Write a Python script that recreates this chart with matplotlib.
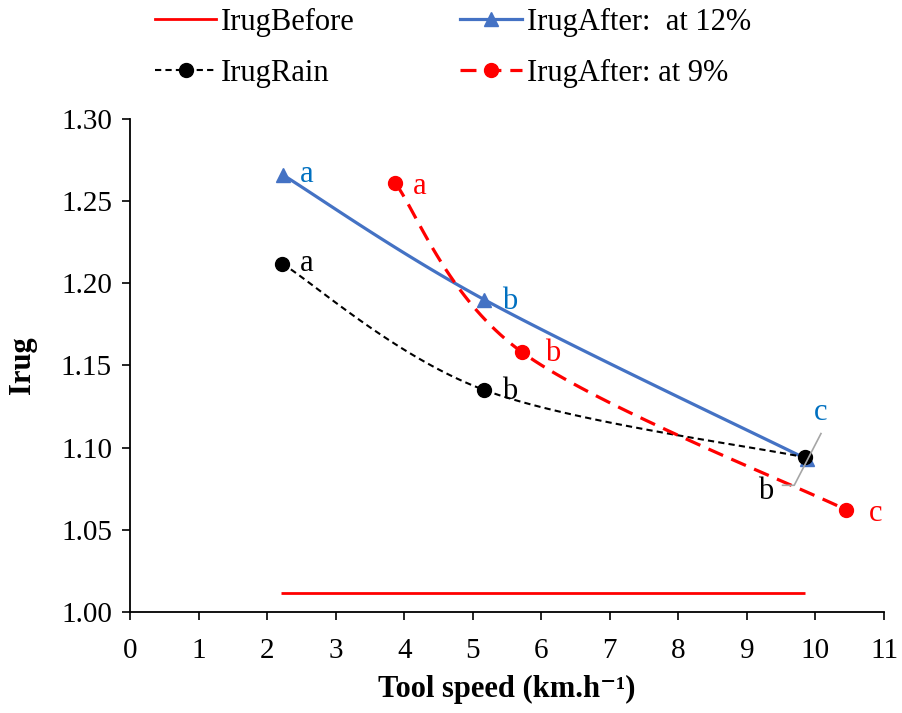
import numpy as np
import matplotlib
matplotlib.use("Agg")
import matplotlib.pyplot as plt
from matplotlib.lines import Line2D

plt.rcParams["font.family"] = ["Liberation Serif", "DejaVu Serif"]

# data
before_x = [2.2, 9.85]
before_y = [1.0115, 1.0115]

after12_x = [2.23, 5.17, 9.87]
after12_y = [1.266, 1.190, 1.093]
after12_lab = ["a", "b", "c"]

rain_x = [2.22, 5.17, 9.85]
rain_y = [1.212, 1.135, 1.094]
rain_lab = ["a", "b", "b"]

after9_x = [3.87, 5.72, 10.45]
after9_y = [1.261, 1.158, 1.062]
after9_lab = ["a", "b", "c"]

XMAX, YMIN, YMAX = 11, 1.0, 1.30


def smooth(xs, ys, n=40):
    # Excel-like smoothed line (bezier through points), done in screen-ish units
    sx, sy = 754 / XMAX, 493 / (YMAX - YMIN)
    p = np.column_stack([np.array(xs) * sx, (np.array(ys) - YMIN) * sy])
    pts = [p[0]]
    for i in range(len(p) - 1):
        p0 = p[i - 1] if i > 0 else p[i]
        p1, p2 = p[i], p[i + 1]
        p3 = p[i + 2] if i + 2 < len(p) else p[i + 1]
        c1 = p1 + (p2 - p0) / 6
        c2 = p2 - (p3 - p1) / 6
        t = np.linspace(0, 1, n)[1:, None]
        seg = ((1 - t) ** 3) * p1 + 3 * ((1 - t) ** 2) * t * c1 + 3 * (1 - t) * t ** 2 * c2 + t ** 3 * p2
        pts.extend(seg)
    pts = np.array(pts)
    return pts[:, 0] / sx, pts[:, 1] / sy + YMIN


fig = plt.figure(figsize=(9.03, 7.13), dpi=100)
ax = fig.add_axes([0.144, 0.142, 0.835, 0.691])

blue = "#4472C4"
red = "#FF0000"
red_dash = (0, (5, 2.8))
blk_dash = (0, (3, 2))

ax.plot(before_x, before_y, color=red, lw=2.0, solid_capstyle="butt")

sx, sy = smooth(after12_x, after12_y)
ax.plot(sx, sy, color=blue, lw=2.3)
ax.plot(after12_x, after12_y, ls="none", marker="^", ms=10, color=blue)

sx, sy = smooth(rain_x, rain_y)
ax.plot(sx, sy, color="black", lw=1.5, ls=blk_dash)
ax.plot(rain_x, rain_y, ls="none", marker="o", ms=10, color="black")

sx, sy = smooth(after9_x, after9_y)
ax.plot(sx, sy, color=red, lw=2.3, ls=red_dash)
ax.plot(after9_x, after9_y, ls="none", marker="o", ms=10, color=red)

# point letters
fs = 22
lab_blue = "#0070C0"
ax.text(2.48, 1.266, after12_lab[0], color=lab_blue, fontsize=fs, va="center")
ax.text(5.42, 1.189, after12_lab[1], color=lab_blue, fontsize=fs, va="center")
ax.text(10.08, 1.1215, after12_lab[2], color=lab_blue, fontsize=fs, va="center", ha="center")

ax.text(2.48, 1.212, rain_lab[0], color="black", fontsize=fs, va="center")
ax.text(5.42, 1.134, rain_lab[1], color="black", fontsize=fs, va="center")
ax.text(9.28, 1.0735, rain_lab[2], color="black", fontsize=fs, va="center", ha="center")

ax.text(4.12, 1.259, after9_lab[0], color=red, fontsize=fs, va="center")
ax.text(6.05, 1.157, after9_lab[1], color=red, fontsize=fs, va="center")
ax.text(10.88, 1.060, after9_lab[2], color=red, fontsize=fs, va="center", ha="center")

# leader lines
ax.plot([10.08, 9.69, 9.52], [1.1085, 1.077, 1.077], color="#A6A6A6", lw=1.2)

ax.set_xlim(0, XMAX)
ax.set_ylim(YMIN, YMAX)
ax.set_xticks(range(0, 12))
ax.set_yticks(np.arange(1.0, 1.301, 0.05))
ax.yaxis.set_major_formatter(matplotlib.ticker.FormatStrFormatter("%.2f"))
ax.tick_params(labelsize=21, direction="out", length=6, width=1.2, pad=7)
ax.tick_params(axis="x", pad=13)
for s in ["top", "right"]:
    ax.spines[s].set_visible(False)
for s in ["left", "bottom"]:
    ax.spines[s].set_linewidth(1.3)

ax.set_xlabel("Tool speed (km.h\u207b\u00b9)", fontsize=22, fontweight="bold", labelpad=8)
ax.set_ylabel("Irug", fontsize=22, fontweight="bold", labelpad=17)

handles = [
    Line2D([], [], color=red, lw=2.0),
    Line2D([], [], color="black", lw=1.5, ls=blk_dash, marker="o", ms=10),
    Line2D([], [], color=blue, lw=2.3, marker="^", ms=10),
    Line2D([], [], color=red, lw=2.3, ls=red_dash, marker="o", ms=10),
]
labels = ["IrugBefore", "IrugRain", "IrugAfter:  at 12%", "IrugAfter: at 9%"]
fig.legend(handles, labels, ncol=2, loc="upper left", bbox_to_anchor=(155 / 903, 1 - 8 / 713),
           frameon=False, fontsize=22, handlelength=2.0, handletextpad=0.17,
           columnspacing=3.45, labelspacing=0.72, borderpad=0, borderaxespad=0)

fig.savefig("out.png", dpi=100)
